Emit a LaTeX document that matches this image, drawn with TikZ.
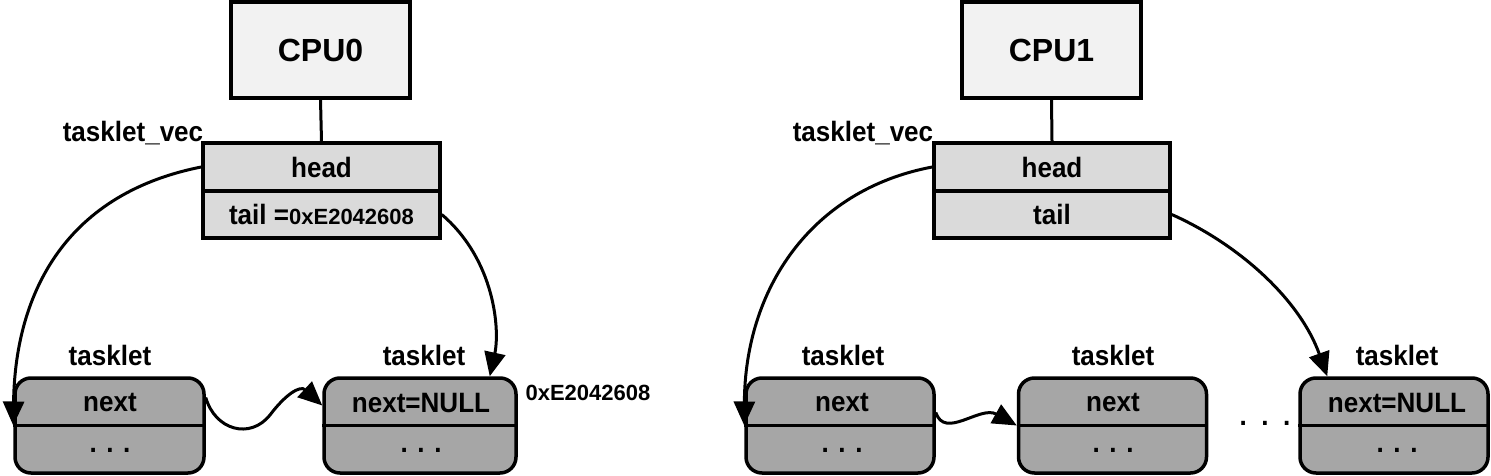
\documentclass[tikz,border=0pt]{standalone}
\usepackage{fontspec}
\setmainfont{Liberation Sans}
\newfontfamily\narrowfont[FakeStretch=0.93]{Liberation Sans}
\usetikzlibrary{arrows.meta}
\definecolor{cpufill}{HTML}{F2F2F2}
\definecolor{vecfill}{HTML}{DADADA}
\definecolor{taskfill}{HTML}{A6A6A6}
\begin{document}
\begin{tikzpicture}[x=1pt,y=-1pt,
  cpubox/.style={draw, line width=3.5pt, fill=cpufill, minimum width=179pt, minimum height=96pt, inner sep=0pt, font=\fontsize{32}{36}\selectfont\bfseries},
  vecbox/.style={draw, line width=3.5pt, fill=vecfill, minimum width=237pt, minimum height=48pt, inner sep=0pt, font=\narrowfont\fontsize{28}{32}\selectfont\bfseries},
  taskbox/.style={draw, line width=3.5pt, fill=taskfill, rounded corners=16pt, minimum width=189pt, minimum height=95pt, inner sep=0pt},
  lbl/.style={font=\narrowfont\fontsize{28}{32}\selectfont\bfseries, inner sep=0pt},
  small/.style={font=\fontsize{22}{26}\selectfont\bfseries, inner sep=0pt},
  link/.style={line width=3pt},
  divider/.style={line width=2.5pt},
  arr/.style={line width=3pt, -{Triangle[length=24pt,width=21pt]}},
]
\useasboundingbox (0,0) rectangle (1491,476);

% ---------- CPU0 group ----------
\node[cpubox] (C0) at (320.5,50) {CPU0};
\node[vecbox] (H0) at (321.5,167) {head};
\node[vecbox, minimum height=47pt] (T0) at (321.5,214.5) {tail =\normalfont\bfseries\fontsize{22}{26}\selectfont 0xE2042608};
\node[lbl] (V0) at (133,133) {tasklet\_vec};
\draw[link] (C0.south) -- (H0.north);

\node[taskbox] (L1) at (109.5,425.5) {};
\node[taskbox, minimum width=192pt] (L2) at (420,425.5) {};
\draw[divider] (L1.west) -- (L1.east);
\draw[divider] (L2.west) -- (L2.east);
\node[lbl] (L1t) at (110,355) {tasklet};
\node[lbl] (L2t) at (424,355) {tasklet};
\node[lbl] (L1n) at (110,403) {next};
\node[lbl] (L2n) at (421,403) {next=NULL};
\node[lbl] (L1d) at (110,450) {. . .};
\node[lbl] (L2d) at (421,450) {. . .};
\node[small] (A0) at (588,393) {0xE2042608};

\draw[arr] (H0.west) .. controls (60,195) and (15,300) .. (L1.west);
\draw[arr] (T0.east) .. controls (495,260) and (500,330) .. ([xshift=-28pt]L2.north east);
\draw[arr] ([yshift=28pt]L1.east) .. controls (215,430) and (250,440) .. (270,415)
   .. controls (285,395) and (300,385) .. ([yshift=20pt]L2.west);

% ---------- CPU1 group ----------
\node[cpubox] (C1) at (1051.5,50) {CPU1};
\node[vecbox, minimum width=236pt] (H1) at (1052,167) {head};
\node[vecbox, minimum width=236pt, minimum height=47pt] (T1) at (1052,214.5) {tail};
\node[lbl] (V1) at (863,133) {tasklet\_vec};
\draw[link] (C1.south) -- (H1.north);

\node[taskbox, minimum width=188pt] (R1) at (840,425.5) {};
\node[taskbox, minimum width=188pt] (R2) at (1112.5,425.5) {};
\node[taskbox, minimum width=188pt] (R3) at (1394,425.5) {};
\draw[divider] (R1.west) -- (R1.east);
\draw[divider] (R2.west) -- (R2.east);
\draw[divider] (R3.west) -- (R3.east);
\node[lbl] (R1t) at (843,355) {tasklet};
\node[lbl] (R2t) at (1113,355) {tasklet};
\node[lbl] (R3t) at (1397,355) {tasklet};
\node[lbl] (R1n) at (842,403) {next};
\node[lbl] (R2n) at (1113,403) {next};
\node[lbl] (R3n) at (1397,403) {next=NULL};
\node[lbl] (R1d) at (842,450) {. . .};
\node[lbl] (R2d) at (1113,450) {. . .};
\node[lbl] (R3d) at (1397,450) {. . .};
\node[lbl] (M1) at (1265,423) {.\ \ .\ \ .};

\draw[arr] (H1.west) .. controls (810,190) and (745,290) .. (R1.west);
\draw[arr] (T1.east) .. controls (1240,245) and (1300,300) .. ([xshift=29pt]R3.north west);
\draw[arr] ([yshift=13pt]R1.east) .. controls (945,440) and (980,405) .. (R2.west);
\end{tikzpicture}
\end{document}
